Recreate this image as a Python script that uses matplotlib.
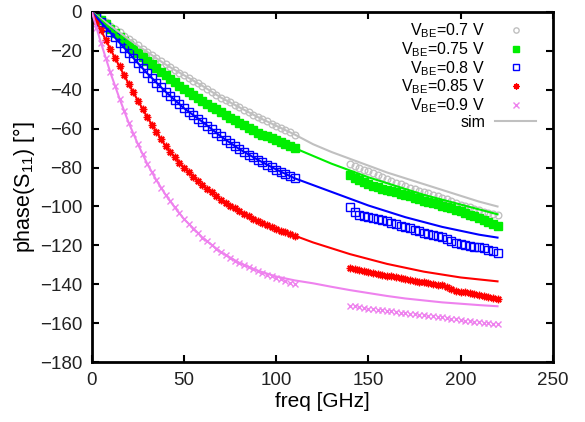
import numpy as np
import matplotlib
matplotlib.use("Agg")
import matplotlib.pyplot as plt
from matplotlib.lines import Line2D

plt.rcParams['font.family'] = ['Liberation Sans', 'DejaVu Sans']
plt.rcParams['mathtext.fontset'] = 'custom'
plt.rcParams['mathtext.rm'] = 'Liberation Sans'

# ---------------- data ----------------
labels = ["V$_{\\rm BE}$=0.7 V", "V$_{\\rm BE}$=0.75 V", "V$_{\\rm BE}$=0.8 V",
          "V$_{\\rm BE}$=0.85 V", "V$_{\\rm BE}$=0.9 V"]
sim_label = "sim"

# measured, band 1 (0 .. 110 GHz, 2.5 GHz step)
f_meas1 = np.arange(0, 110.1, 2.5)
meas1_07 = [0, -1.8, -3.5, -5.3, -7, -8.8, -10.5, -12.3, -14, -15.6, -17.2, -18.9, -20.5, -22.2, -23.8,
            -25.4, -27, -28.4, -29.8, -31.2, -32.5, -33.9, -35.3, -36.7, -38, -39.5, -41, -42.5, -44,
            -45.2, -46.5, -47.8, -49, -50.3, -51.5, -52.8, -54, -55.1, -56.3, -57.4, -58.5, -59.6,
            -60.8, -61.9, -63]
meas1_075 = [0, -2.1, -4.3, -6.4, -8.5, -10.6, -12.8, -14.9, -17, -19, -21, -23, -25, -26.9, -28.8,
             -30.7, -32.5, -34.3, -36, -37.8, -39.5, -41.1, -42.8, -44.4, -46, -47.4, -48.8, -50.1,
             -51.5, -52.9, -54.3, -55.6, -57, -58.3, -59.5, -60.8, -62, -63, -64, -65, -66, -67, -68,
             -69, -70]
meas1_08 = [0, -2.6, -5.3, -7.9, -10.5, -13.1, -15.8, -18.4, -21, -23.6, -26.3, -28.9, -31.5, -33.9,
            -36.3, -38.6, -41, -43.1, -45.3, -47.4, -49.5, -51.3, -53, -54.8, -56.5, -58.4, -60.3,
            -62.1, -64, -65.6, -67.3, -68.9, -70.5, -71.9, -73.3, -74.6, -76, -77.3, -78.5, -79.8,
            -81, -82.1, -83.3, -84.4, -85.5]
meas1_085 = [0, -4.8, -9.5, -14.3, -19, -23.5, -28, -32.5, -37, -41.3, -45.6, -49.8, -54, -57.9,
             -61.7, -65.4, -69, -71.9, -74.8, -77.5, -80, -82.3, -84.6, -86.8, -89, -90.9, -92.8,
             -94.7, -96.5, -98, -99.5, -101, -102.5, -103.8, -105, -106.3, -107.5, -108.5, -109.5,
             -110.5, -111.5, -112.4, -113.3, -114.2, -115]
meas1_09 = [0, -8.2, -16, -23.6, -31, -37.8, -44.5, -50.8, -57, -62.6, -68, -73, -78, -82.3, -86.5,
            -90.3, -94, -97.3, -100.5, -103.5, -106.5, -109, -111.5, -113.8, -116, -118, -120,
            -121.8, -123.5, -125, -126.5, -127.8, -129, -130.2, -131.3, -132.3, -133.3, -134.2,
            -135, -135.9, -136.7, -137.5, -138.3, -139.2, -140]

# measured, band 2 (140 .. 220 GHz, 2.5 GHz step)
f_meas2 = np.arange(140, 220.1, 2.5)
meas2_07 = [-78, -79, -80, -81, -82, -83, -84, -85, -86, -86.9, -87.8, -88.6, -89.5, -90.3, -91,
            -91.8, -92.5, -93.3, -94, -94.8, -95.5, -96.4, -97.3, -98.1, -99, -99.8, -100.5,
            -101.3, -102, -102.8, -103.5, -104, -104.5]
meas2_075 = [-84, -85.3, -86.5, -87.5, -88.5, -89.3, -90, -90.8, -91.5, -92.1, -92.8, -93.4, -94,
             -94.8, -95.5, -96.3, -97, -97.6, -98.3, -98.9, -99.5, -100.3, -101, -101.8, -102.5,
             -103.4, -104.3, -105.1, -106, -107, -108, -109, -110]
meas2_08 = [-100.5, -103, -104.2, -104.8, -105.4, -105.9, -106.4, -107, -107.6, -108.4, -109.1,
            -109.8, -110.5, -111.3, -112, -112.8, -113.5, -114, -114.5, -115, -115.6, -116.5,
            -117.5, -118.6, -119.4, -119.8, -120.2, -120.6, -121, -121.6, -122.2, -123, -124]
meas2_085 = [-131.5, -132, -132.5, -133, -133.5, -134, -134.5, -135, -135.5, -136, -136.5, -137,
             -137.5, -137.9, -138.3, -138.7, -139, -139.4, -139.8, -140.2, -140.5, -141.3, -142.3,
             -143.2, -143.8, -144.2, -144.6, -145, -145.5, -146, -146.5, -147, -147.5]
meas2_09 = [-151, -151.4, -151.8, -152.1, -152.5, -152.8, -153, -153.3, -153.5, -153.9, -154.3,
            -154.6, -155, -155.3, -155.5, -155.8, -156, -156.3, -156.5, -156.8, -157, -157.4,
            -157.8, -158.1, -158.5, -158.8, -159, -159.3, -159.5, -159.8, -160, -160.3, -160.5]

# simulation
f_sim = [0, 5, 10, 15, 20, 25, 30, 35, 40, 45, 50, 60, 70, 80, 90, 100, 110, 120, 130, 140,
         150, 160, 170, 180, 190, 200, 210, 220]
sim_07 = [0, -3.5, -7, -10.5, -14, -17.3, -20.5, -23.8, -27, -29.8, -32.5, -38, -44, -49, -54,
          -58.5, -63, -68, -72, -75.5, -79, -82.5, -85.5, -88.5, -91.5, -94.5, -97.5, -100]
sim_075 = [0, -4.3, -8.5, -12.8, -17, -21, -25, -28.8, -32.5, -36, -39.5, -46, -51.5, -57, -62,
           -66, -70, -74, -78, -81.5, -85, -88, -91, -94, -96.5, -99, -101.5, -104]
sim_08 = [0, -5.3, -10.5, -15.8, -21, -26.3, -31.5, -36.3, -41, -45.3, -49.5, -56.5, -64, -70.5,
          -76, -81, -85.5, -89, -92.5, -96, -99.5, -102.5, -105.5, -108, -110.5, -112.5, -114.5, -116]
sim_085 = [0, -9.5, -19, -28, -37, -45.6, -54, -61.7, -69, -74.8, -80, -89, -96.5, -102.5, -107.5,
           -111.5, -115, -118.5, -121.5, -124.5, -127, -129.5, -131.5, -133.5, -135, -136.5,
           -137.5, -138.5]
sim_09 = [0, -16, -31, -44.5, -57, -68, -78, -86.5, -94, -100.5, -106.5, -116, -123.5, -129,
          -133, -136, -138, -139.5, -141.3, -143, -144.5, -146, -147.3, -148.3, -149.3, -150,
          -150.7, -151.3]

x_ticks = [0, 50, 100, 150, 200, 250]
y_ticks = [0, -20, -40, -60, -80, -100, -120, -140, -160, -180]

# ---------------- styling ----------------
colors = ['#c0c0c0', '#00ee00', '#0000ff', '#ff0000', '#ee82ee']
sim_colors = ['#c0c0c0', '#00ee00', '#0000ff', '#ff0000', '#ee82ee']
markers = ['o', 's', 's', (8, 2, 0), 'x']
fills = [False, True, False, True, True]
msizes = [4.8, 5.6, 5.2, 5.4, 5.0]

meas1 = [meas1_07, meas1_075, meas1_08, meas1_085, meas1_09]
meas2 = [meas2_07, meas2_075, meas2_08, meas2_085, meas2_09]
sims = [sim_07, sim_075, sim_08, sim_085, sim_09]

fig = plt.figure(figsize=(5.85, 4.22), dpi=100)
ax = fig.add_axes([0.157, 0.142, 0.788, 0.8296])

handles = []
for i in range(5):
    kw = dict(linestyle='none', marker=markers[i], markersize=msizes[i], color=colors[i],
              markeredgewidth=1.0, zorder=2)
    if not fills[i]:
        kw['markerfacecolor'] = 'none'
    ax.plot(f_meas1, meas1[i], **kw)
    ax.plot(f_meas2, meas2[i], **kw)
    handles.append(Line2D([], [], label=labels[i], **kw))

for i in range(5):
    ax.plot(f_sim, sims[i], color=sim_colors[i], lw=1.5, zorder=3)
handles.append(Line2D([], [], color='#c0c0c0', lw=1.5, label=sim_label))

ax.set_xlim(0, 250)
ax.set_ylim(-180, 0)
ax.set_xticks(x_ticks)
ax.set_yticks(y_ticks)
ax.tick_params(direction='in', length=5, width=1.5, top=True, right=True, labelsize=13.5,
               pad=7, colors='black', labelcolor='#222222')
for s in ax.spines.values():
    s.set_linewidth(2)
ax.set_xlabel('freq [GHz]', fontsize=15, labelpad=2)
ax.set_ylabel('phase(S$_{11}$) [°]', fontsize=15.5, labelpad=2)

leg = ax.legend(handles=handles, loc='upper right', bbox_to_anchor=(0.985, 1.0),
                frameon=False, markerfirst=False, fontsize=11.5, handlelength=2.6,
                labelspacing=0.0, handletextpad=0.6, borderaxespad=0.2, markerscale=0.8)
for t in leg.get_texts():
    t.set_ha('right')

fig.savefig('out.png', dpi=100)
